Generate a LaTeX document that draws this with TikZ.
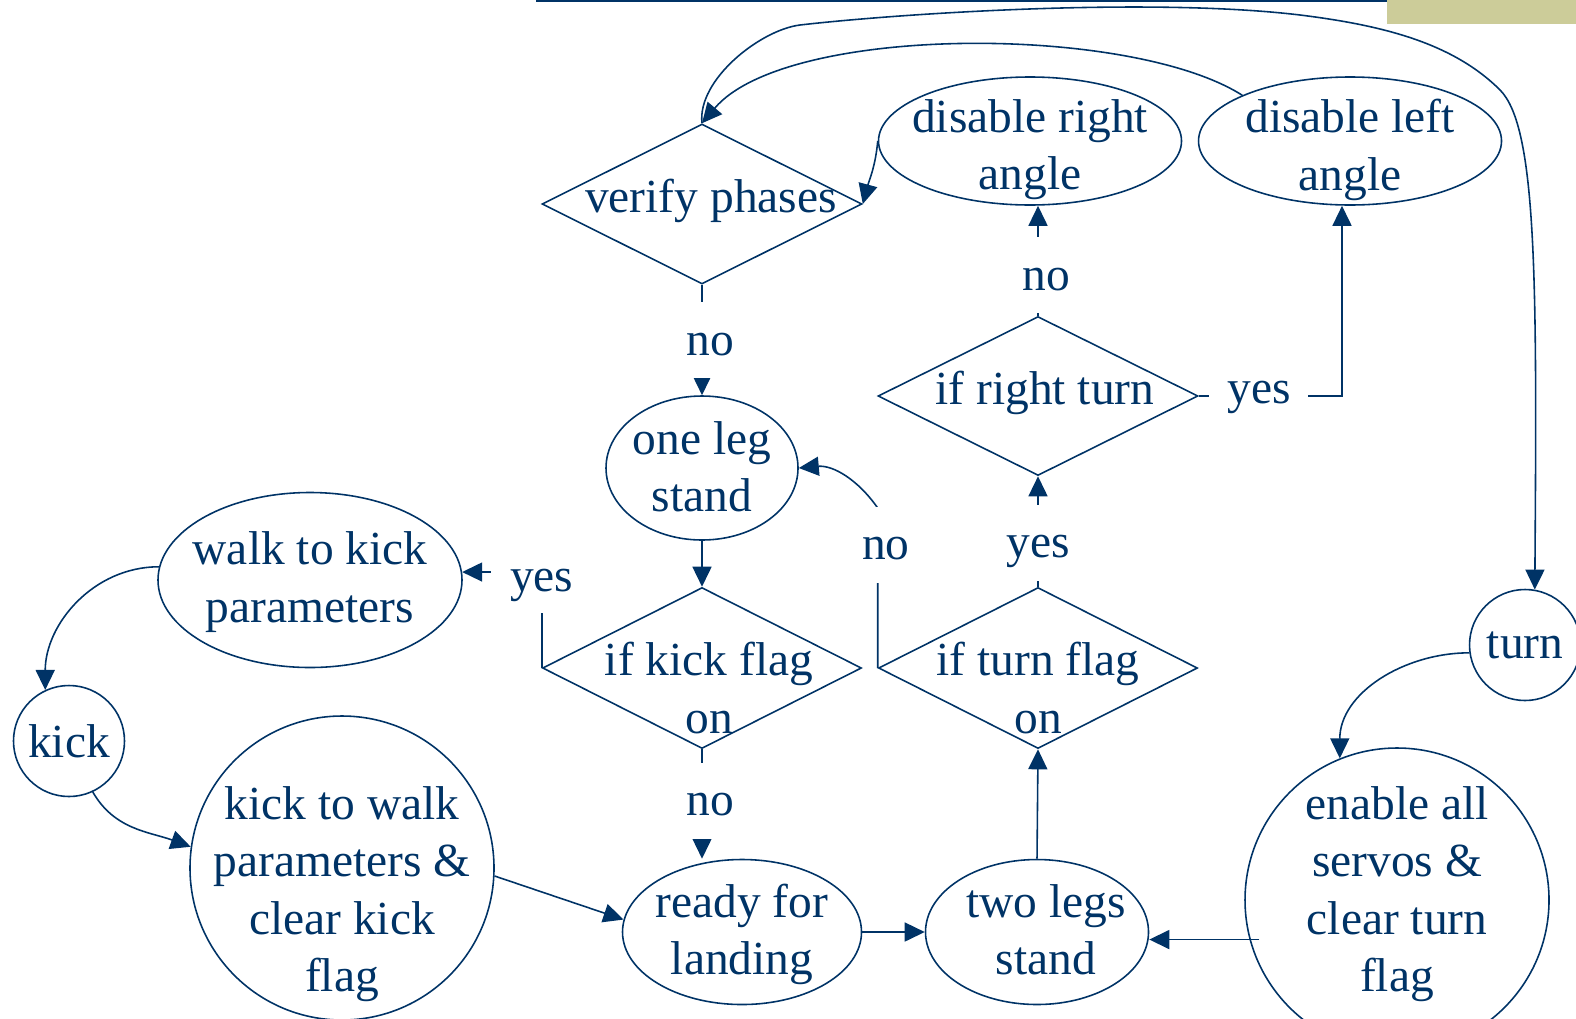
\documentclass[tikz,border=0pt]{standalone}
\usepackage{fontspec}
\setmainfont{Liberation Serif}
\usepackage{xcolor}
\usepackage{tikz}
\usetikzlibrary{shapes.geometric, arrows.meta, calc}
\definecolor{fcNavy}{HTML}{003366}
\definecolor{fcOlive}{HTML}{CCCC99}
\tikzset{
  state/.style={
    ellipse, draw=fcNavy, line width=0.45pt,
    inner sep=0pt
  },
  roundstate/.style={
    circle, draw=fcNavy, line width=0.45pt,
    inner sep=0pt
  },
  decision/.style={
    diamond, draw=fcNavy, line width=0.45pt,
    inner sep=0pt
  },
  txt/.style={
    text=fcNavy, inner sep=0pt, align=center,
    font=\fontsize{13.5}{16.3}\selectfont
  },
  arrow/.style={
    -{Triangle[length=2mm, width=1.9mm]},
    fcNavy, line width=0.45pt
  },
  cond/.style={
    txt, fill=white, text height=3mm, text depth=0pt,
    minimum width=9.9mm, minimum height=7.6mm
  }
}

\begin{document}
\begin{tikzpicture}[x=0.1mm, y=0.1mm]
      \useasboundingbox (0,0) rectangle (1576,-1018);
      \clip (0,0) rectangle (1576,-1018);
      % slide frame
      \fill[fcNavy] (536,0) rectangle (1387,-2.5);
      \fill[fcOlive] (1387,0) rectangle (1576,-24);
      % top row
      \node[decision, minimum width=32mm, minimum height=16mm, label={[txt, xshift=0.9mm, yshift=0.3mm]center:verify phases}] (verify) at (702,-204) {};
      \node[state, minimum width=30.3mm, minimum height=12.8mm, label={[txt, yshift=-0.9mm]center:disable right\\angle}] (rightdis) at (1030,-141) {};
      \node[state, minimum width=30.3mm, minimum height=12.8mm, label={[txt, yshift=-0.9mm]center:disable left\\angle}] (leftdis) at (1350,-141) {};
      % middle
      \node[state, minimum width=19.2mm, minimum height=14.4mm, label={[txt, yshift=0.1mm]center:one leg\\stand}] (oneleg) at (702,-468) {};
      \node[decision, minimum width=32mm, minimum height=15.9mm, label={[txt, xshift=0.7mm, yshift=0.3mm]center:if right turn}] (rightturn) at (1038,-396) {};
      \node[state, minimum width=30.4mm, minimum height=17.5mm, label={[txt, yshift=-0.2mm]center:walk to kick\\parameters}] (walkkick) at (310,-580) {};
      \node[decision, minimum width=31.9mm, minimum height=16.1mm, label={[txt, xshift=0.7mm, yshift=-2mm]center:if kick flag\\on}] (kickflag) at (702,-668) {};
      \node[decision, minimum width=31.9mm, minimum height=16.1mm, label={[txt, yshift=-2mm]center:if turn flag\\on}] (turnflag) at (1038,-668) {};
      \node[roundstate, minimum size=11.1mm, label={[txt]center:turn}] (turn) at (1525,-645) {};
      % bottom row
      \node[roundstate, minimum size=11.1mm, label={[txt]center:kick}] (kick) at (69,-741) {};
      \node[roundstate, minimum size=30.4mm, label={[txt, yshift=-2.6mm]center:kick to walk\\parameters \&\\clear kick\\flag}] (kickwalk) at (342,-868) {};
      \node[state, minimum width=23.9mm, minimum height=14.5mm, label={[txt, yshift=-0.25mm]center:ready for\\landing}] (landing) at (742,-932) {};
      \node[state, minimum width=22.3mm, minimum height=14.5mm, label={[txt, xshift=0.9mm, yshift=0.2mm]center:two legs\\stand}] (twolegs) at (1037,-932) {};
      \node[roundstate, minimum size=30.4mm, label={[txt, yshift=0.6mm]center:enable all\\servos \&\\clear turn\\flag}] (enableall) at (1397,-900) {};
      \coordinate (nobend) at ($(turnflag.west)+(0,160)$);
      % connectors
      \draw[arrow] (verify.south) -- node[cond, xshift=0.8mm]{no} (oneleg.north);
      \draw[arrow] (oneleg.south) -- (kickflag.north);
      \draw[arrow] (kickflag.south) -- node[cond, xshift=0.8mm, pos=0.47]{no} (kickflag.south |- landing.north);
      \draw[arrow] (kickflag.west) |- node[cond, yshift=-0.4mm, minimum width=10.2mm, minimum height=7.4mm]{yes} (walkkick.3);
      \draw[arrow] (turnflag.west) -- node[cond, xshift=0.8mm, pos=0.77]{no} (nobend) to[out=125, in=5] (oneleg.east);
      \draw[arrow] (turnflag.north) -- node[cond, pos=0.4]{yes} (rightturn.south);
      \draw[arrow] (rightturn.north) -- node[cond, xshift=0.8mm, pos=0.37]{no} (rightturn.north |- rightdis.south);
      \draw[arrow] (rightturn.east) -| node[cond, yshift=0.8mm, pos=0.21]{yes} ($(leftdis.south)+(-8,0)$);
      \draw[arrow] (rightdis.west) to[out=-95, in=75] (verify.east);
      \draw[arrow] (leftdis.157) .. controls (1130,-24) and (786,-24) .. (verify.north);
      \draw[arrow] (verify.north) .. controls (697,-80) and (760,-30) .. (800,-25)
        .. controls (900,-13.5) and (1150,3) .. (1300,-15)
        .. controls (1380,-25) and (1452,-42) .. (1500,-90)
        .. controls (1537,-127) and (1537,-280) .. (turn.80);
      \draw[arrow] (walkkick.175) to[out=180, in=90] (kick.115);
      \draw[arrow] (kick.-65) to[out=-60, in=160] (kickwalk.172);
      \draw[arrow] (kickwalk.-3) -- (landing.174);
      \draw[arrow] (landing.east) -- (twolegs.west);
      \draw[arrow] (twolegs.north) -- (turnflag.south);
      \draw[arrow] ($(enableall.195)+(10,0)$) -- (enableall.195 -| twolegs.east);
      \draw[arrow] (turn.188) to[out=180, in=90] (enableall.112);
    \end{tikzpicture}
\end{document}
